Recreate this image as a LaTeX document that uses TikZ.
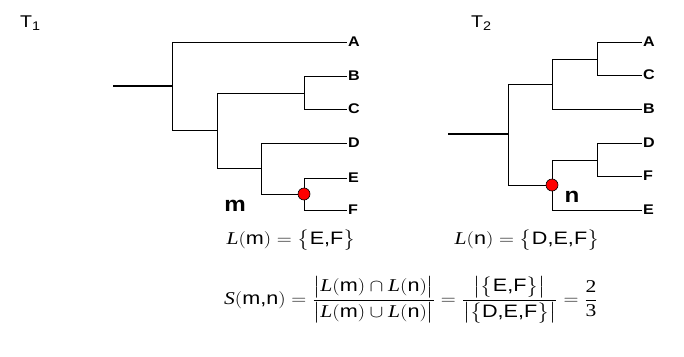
\documentclass[tikz,border=0pt]{standalone}
\usepackage{amsmath}
\usepackage{graphicx}
\usepackage{fontspec}
\setmainfont{Liberation Serif}
\newfontfamily\arial{Liberation Sans}
\newcommand{\sa}[1]{\mbox{\arial #1}}
\newcommand{\Li}{\mbox{\itshape L}}
\newcommand{\sx}[1]{\scalebox{1.15}[1]{#1}}
\newcommand{\sxe}[1]{\scalebox{1.2}[1]{#1}}
\begin{document}
\begin{tikzpicture}[x=1pt,y=-1pt,
  branch/.style={line width=1pt},
  rootline/.style={line width=1.6pt},
  leaf/.style={anchor=west,inner sep=1pt,font=\arial\bfseries\fontsize{14}{14}\selectfont},
  mark node/.style={circle,draw=black,fill=red,line width=0.6pt,minimum size=12pt,inner sep=0pt},
  nlabel/.style={font=\arial\bfseries\fontsize{21}{21}\selectfont},
  tlabel/.style={font=\arial\fontsize{17}{17}\selectfont,anchor=west,inner sep=0pt},
  eq/.style={font=\fontsize{18}{21}\selectfont}]
\useasboundingbox (0,0) rectangle (684,356);
\fill[white] (0,0) rectangle (684,356);
% ---------- T1 ----------
\node[tlabel] (t1) at (20,23) {\sx{T$_{\mbox{\arial\fontsize{12.5}{12.5}\selectfont 1}}$}};
\coordinate (r1s) at (113,86);
\coordinate (r1) at (172,86);
\coordinate (a1) at (217,130);
\coordinate (bc1) at (304,93);
\coordinate (def1) at (261,168);
\node[leaf] (A1) at (347,42) {\sx{A}};
\node[leaf] (B1) at (347,76) {\sx{B}};
\node[leaf] (C1) at (347,109) {\sx{C}};
\node[leaf] (D1) at (347,143) {\sx{D}};
\node[leaf] (E1) at (347,178) {\sx{E}};
\node[leaf] (F1) at (347,210) {\sx{F}};
\draw[rootline] (r1s) -- (r1);
\draw[branch] (r1) |- (A1.west);
\draw[branch] (r1) |- (a1);
\draw[branch] (a1) |- (bc1);
\draw[branch] (a1) |- (def1);
\draw[branch] (bc1) |- (B1.west);
\draw[branch] (bc1) |- (C1.west);
\draw[branch] (def1) |- (D1.west);
\coordinate (m1) at (304,194);
\draw[branch] (def1) |- (m1);
\draw[branch] (m1) |- (E1.west);
\draw[branch] (m1) |- (F1.west);
\node[mark node] (m) at (m1) {};
\node[nlabel] (mlab) at (235,206) {\sx{m}};
% ---------- T2 ----------
\node[tlabel] (t2) at (471,23) {\sx{T$_{\mbox{\arial\fontsize{12.5}{12.5}\selectfont 2}}$}};
\coordinate (r2s) at (448,134);
\coordinate (r2) at (508,134);
\coordinate (u2) at (552,84);
\coordinate (ac2) at (597,59);
\coordinate (n2) at (552,185);
\coordinate (df2) at (597,160);
\node[leaf] (A2) at (642,42) {\sx{A}};
\node[leaf] (C2) at (642,75) {\sx{C}};
\node[leaf] (B2) at (642,109) {\sx{B}};
\node[leaf] (D2) at (642,143) {\sx{D}};
\node[leaf] (F2) at (642,176) {\sx{F}};
\node[leaf] (E2) at (642,210) {\sx{E}};
\draw[rootline] (r2s) -- (r2);
\draw[branch] (r2) |- (u2);
\draw[branch] (r2) |- (n2);
\draw[branch] (u2) |- (ac2);
\draw[branch] (u2) |- (B2.west);
\draw[branch] (ac2) |- (A2.west);
\draw[branch] (ac2) |- (C2.west);
\draw[branch] (n2) |- (df2);
\draw[branch] (n2) |- (E2.west);
\draw[branch] (df2) |- (D2.west);
\draw[branch] (df2) |- (F2.west);
\node[mark node] (n) at (n2) {};
\node[nlabel] (nlab) at (572,197) {\sx{n}};
% ---------- equations ----------
\node[eq] (Lm) at (291,240) {\sxe{$\Li(\sa{m}) = \big\{\sa{E,F}\big\}$}};
\node[eq] (Ln) at (527,240) {\sxe{$\Li(\sa{n}) = \big\{\sa{D,E,F}\big\}$}};
\node[eq] (S) at (411,300) {\sxe{$\mbox{\itshape S}(\sa{m,n}) = \dfrac{\bigl|\Li(\sa{m})\cap \Li(\sa{n})\bigr|}{\bigl|\Li(\sa{m})\cup \Li(\sa{n})\bigr|} = \dfrac{\bigl|\big\{\sa{E,F}\big\}\bigr|}{\bigl|\big\{\sa{D,E,F}\big\}\bigr|} = \dfrac{\mbox{2}}{\mbox{3}}$}};
\end{tikzpicture}
\end{document}
